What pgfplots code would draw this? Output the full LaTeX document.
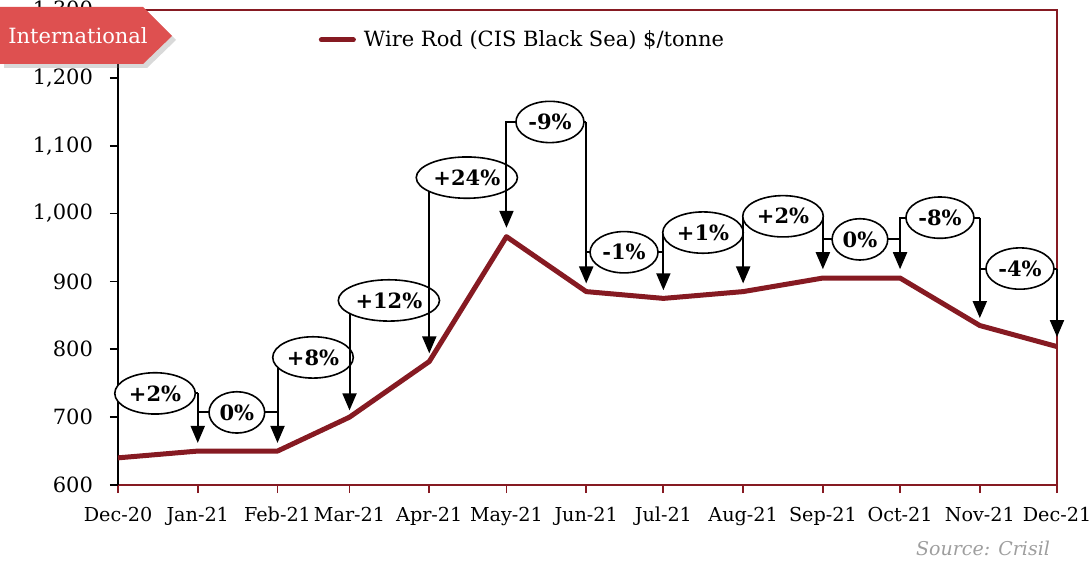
\documentclass[border=0pt]{standalone}
\usepackage{fontspec}
\setmainfont{DejaVu Serif}
\usepackage{pgfplots}
\pgfplotsset{compat=1.18}
\usetikzlibrary{arrows.meta,shapes.geometric,shadows}
\definecolor{dred}{HTML}{861A22}
\definecolor{badge}{HTML}{DE5050}
\newcommand{\ann}[7]{%
  \draw[line width=1pt] (axis cs:#1,#4) -- (axis cs:#1,#3) -- (axis cs:#2,#3);
  \draw[line width=1pt,-{Triangle[width=7pt,length=8.5pt]}] (axis cs:#2,#3) -- (axis cs:#2,#5);
  \node[ellipse,draw,fill=white,line width=0.8pt,inner xsep=1.2pt,minimum height=20pt,font=\bfseries\fontsize{10.5}{12}\selectfont] at (axis cs:#6,#3) {#7};
}
\begin{document}
\begin{tikzpicture}
\useasboundingbox (0,0) rectangle (544.5pt,-280.5pt);
\begin{axis}[
  at={(59pt,-242.5pt)}, anchor=south west,
  width=469.5pt, height=237.5pt, scale only axis,
  xmin=0, xmax=365, ymin=600, ymax=1300,
  xtick={0,31,62,90,121,151,182,212,243,274,304,335,365},
  xticklabels={Dec-20,Jan-21,Feb-21,Mar-21,Apr-21,May-21,Jun-21,Jul-21,Aug-21,Sep-21,Oct-21,Nov-21,Dec-21},
  ytick={600,700,...,1300},
  tick pos=left, tick align=outside, major tick length=4pt,
  xtick style={dred,line width=0.9pt},
  ytick style={black,line width=0.9pt},
  /pgf/number format/assume math mode=true,
  /pgf/number format/1000 sep={,},
  yticklabel style={font=\fontsize{10.5}{12}\selectfont, xshift=-5pt},
  xticklabel style={font=\fontsize{9.6}{12}\selectfont, text height=7.2pt, text depth=2pt, yshift=-3.5pt},
  axis line style={draw=none},
  clip=false,
  legend style={at={(0.2135,0.937)}, anchor=west, draw=none, fill=none, inner sep=0pt,
    font=\fontsize{10.5}{12}\selectfont},
  legend image code/.code={\draw[line width=2.5pt,line cap=round,#1] (0pt,0pt) -- (16pt,0pt);},
  /tikz/every even column/.append style={column sep=1pt},
]
\draw[dred,line width=0.8pt] (rel axis cs:0,1) -- (rel axis cs:1,1) -- (rel axis cs:1,0) -- (rel axis cs:0,0);
\draw[black,line width=1pt] (rel axis cs:0,0) -- (rel axis cs:0,1);
\addplot[dred,line width=2.5pt,line join=round] coordinates {
 (0,640) (31,650) (62,650) (90,700) (121,782) (151,966) (182,885) (212,875) (243,885) (274,905) (304,905) (335,835) (365,804)};
\addlegendentry{\hspace{2pt}Wire Rod (CIS Black Sea) \$/tonne}
\ann{0}{31}{735}{650}{662}{14.4}{+2\%}
\ann{31}{62}{707}{677}{662}{46.2}{0\%}
\ann{62}{90}{788}{677}{710}{75.8}{+8\%}
\ann{90}{121}{872}{725}{794}{105.3}{+12\%}
\ann{121}{151}{1053}{809}{979}{135.6}{+24\%}
\ann{151}{182}{1135}{994}{897}{167.9}{-9\%}
\ann{182}{212}{943}{912}{887}{196.7}{-1\%}
\ann{212}{243}{972}{902}{897}{227.4}{+1\%}
\ann{243}{274}{996}{912}{918}{258.5}{+2\%}
\ann{274}{304}{962}{933}{918}{288.4}{0\%}
\ann{304}{335}{994}{933}{846}{319.5}{-8\%}
\ann{335}{365}{919}{861}{818}{350.6}{-4\%}
\end{axis}
\fill[badge,drop shadow={opacity=0.3,shadow xshift=2pt,shadow yshift=-2pt}] (0,-3.5pt) -- (71.5pt,-3.5pt) -- (86pt,-18pt) -- (71.5pt,-32pt) -- (0,-32pt) -- cycle;
\node[white,font=\fontsize{10.5}{12}\selectfont] at (39pt,-18pt) {International};
\node[anchor=east,text=black!38,font=\itshape\fontsize{9.5}{12}\selectfont] at (528.5pt,-274pt) {Source: Crisil};
\end{tikzpicture}
\end{document}
